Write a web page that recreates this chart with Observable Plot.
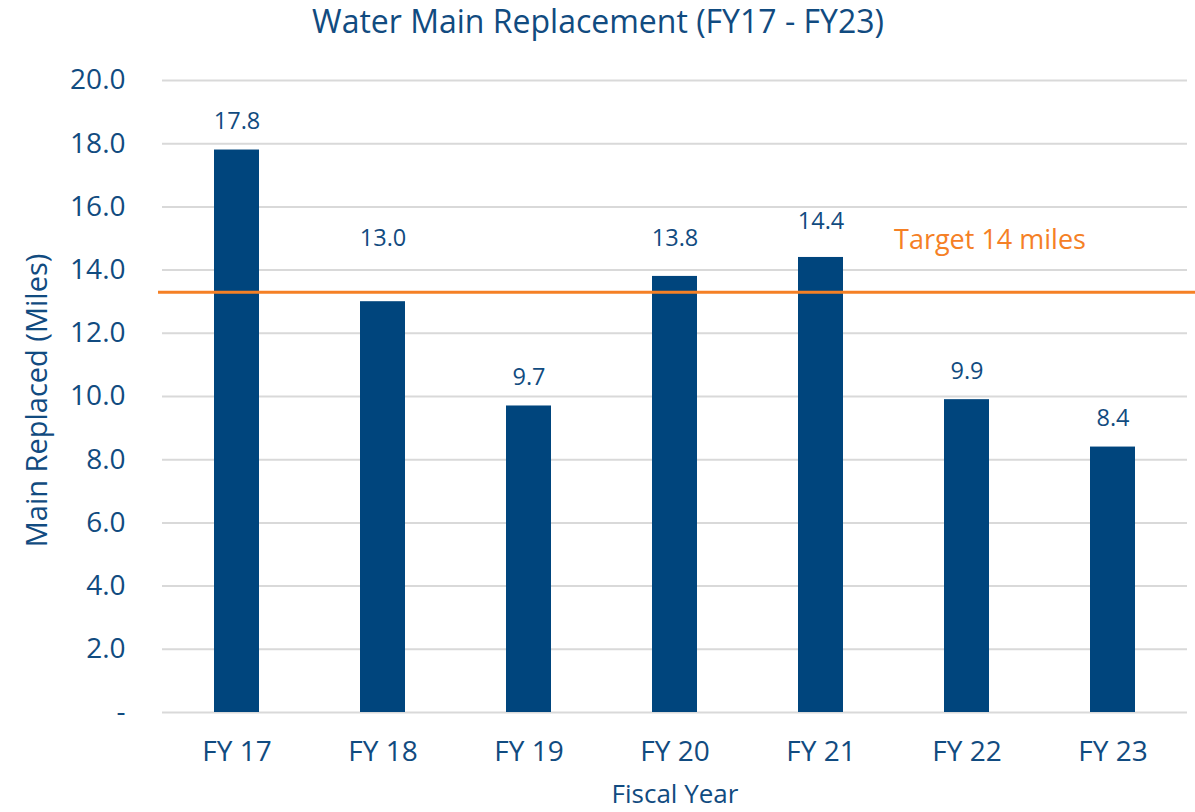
<!DOCTYPE html>
<html>
<head>
<meta charset="utf-8">
<script src="https://cdn.jsdelivr.net/npm/d3@7"></script>
<script src="https://cdn.jsdelivr.net/npm/@observablehq/plot@0.6"></script>
<style>
  html, body { margin: 0; padding: 0; background: #fff; }
  #chart svg { display: block; }
</style>
</head>
<body>
<div id="chart"></div>
<script>
const fiscalYears = ["FY 17", "FY 18", "FY 19", "FY 20", "FY 21", "FY 22", "FY 23"];
const milesReplaced = [17.8, 13.0, 9.7, 13.8, 14.4, 9.9, 8.4];
const targetLineValue = 13.3;
const targetLabel = "Target 14 miles";
const yTicks = [0, 2, 4, 6, 8, 10, 12, 14, 16, 18, 20];
const titleText = "Water Main Replacement (FY17 - FY23)";

const data = fiscalYears.map((fy, i) => ({fy, value: milesReplaced[i]}));
// Excel nudges labels that would collide with the target line upward
const labelAt = v => (v > targetLineValue - 1 && v < targetLineValue + 1.5) ? Math.max(15.0, v + 1.15) : v + 0.9;

const textColor = "#114B80";
const barColor = "#00457D";
const orange = "#F58025";
const font = "Open Sans";

const chart = Plot.plot({
  width: 1195,
  height: 812,
  marginTop: 80,
  marginBottom: 100,
  marginLeft: 162,
  marginRight: 8,
  style: {fontFamily: font, color: textColor, background: "#fff"},
  x: {domain: fiscalYears, paddingInner: 0.69, paddingOuter: 0.345, label: null},
  y: {domain: [0, 20], label: null},
  marks: [
    Plot.gridY(yTicks, {stroke: "#D9D9D9", strokeOpacity: 1, strokeWidth: 2}),
    Plot.axisY(yTicks, {tickSize: 0, tickPadding: 37, fontSize: 28, fill: textColor,
      tickFormat: d => d === 0 ? "-" : d.toFixed(1)}),
    Plot.axisX({tickSize: 0, tickPadding: 29, fontSize: 28, fill: textColor}),
    Plot.barY(data, {x: "fy", y: "value", fill: barColor}),
    Plot.ruleY([targetLineValue], {stroke: orange, strokeWidth: 3, insetLeft: -4, insetRight: -8}),
    Plot.text(data, {x: "fy", y: d => labelAt(d.value), text: d => d.value.toFixed(1),
      fontSize: 23.5, fill: textColor}),
    Plot.text([targetLabel], {x: () => "FY 22", y: () => targetLineValue, dx: 23, dy: -52,
      fontSize: 27, fill: orange}),
    Plot.text([titleText], {frameAnchor: "top", lineAnchor: "middle", dx: -77, dy: -58, fontSize: 32, fill: textColor}),
    Plot.text(["Main Replaced (Miles)"], {frameAnchor: "left", textAnchor: "middle", dx: -125, dy: 4, rotate: -90, fontSize: 29, fill: textColor}),
    Plot.text(["Fiscal Year"], {frameAnchor: "bottom", lineAnchor: "middle", dy: 82, fontSize: 26, fill: textColor})
  ]
});
document.getElementById("chart").appendChild(chart);
</script>
</body>
</html>
